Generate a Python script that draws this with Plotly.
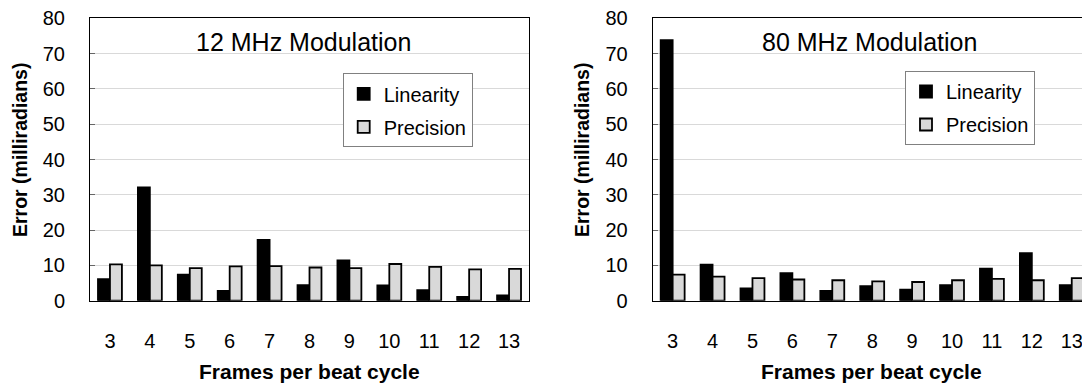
import plotly.graph_objects as go

frames = ["3", "4", "5", "6", "7", "8", "9", "10", "11", "12", "13"]

lin_12 = [6.1, 32.1, 7.4, 2.8, 17.2, 4.4, 11.4, 4.3, 3.0, 1.1, 1.5]
prec_12 = [10.3, 10.0, 9.2, 9.7, 9.8, 9.4, 9.2, 10.4, 9.6, 8.9, 9.0]

lin_80 = [73.8, 10.2, 3.5, 7.8, 2.8, 4.1, 3.1, 4.4, 9.1, 13.5, 4.4]
prec_80 = [7.4, 6.8, 6.4, 6.0, 5.8, 5.5, 5.3, 5.8, 6.2, 5.8, 6.4]

titles = ["12 MHz Modulation", "80 MHz Modulation"]
series_names = ["Linearity", "Precision"]
y_ticks = [0, 10, 20, 30, 40, 50, 60, 70, 80]

W, H = 1082, 386
FONT = "Liberation Sans, Arial, sans-serif"
LIN_COLOR = "#000000"
PREC_COLOR = "#d9d9d9"

fig = go.Figure()

def add_pair(lin, prec, xa, ya, leg):
    for name, vals, col in [(series_names[0], lin, LIN_COLOR), (series_names[1], prec, PREC_COLOR)]:
        fig.add_trace(go.Bar(
            x=frames, y=vals, name=name, xaxis=xa, yaxis=ya,
            marker=dict(color=col, line=dict(color="#000000", width=1.8)),
            legend=leg, legendgroup=leg + name,
        ))

add_pair(lin_12, prec_12, "x", "y", "legend")
add_pair(lin_80, prec_80, "x2", "y2", "legend2")

def px_x(p):
    return p / W

def px_y(p):
    return 1 - p / H

y_dom = [px_y(300.7), px_y(18.3)]

yaxis_common = dict(
    range=[0, 80], tickvals=y_ticks, showgrid=True, gridcolor="#d9d9d9", gridwidth=1,
    showline=True, linecolor="#000000", linewidth=1, ticks="inside", ticklen=5,
    tickcolor="#666666", tickfont=dict(family=FONT, size=20, color="#000000"),
    ticklabelstandoff=20, zeroline=False, fixedrange=True, automargin=False,
)
xaxis_common = dict(
    type="category", showgrid=False, showline=True, linecolor="#000000", linewidth=1,
    ticks="", tickfont=dict(family=FONT, size=20, color="#000000"),
    ticklabelstandoff=22, zeroline=False, fixedrange=True, automargin=False,
)

legend_common = dict(
    font=dict(family=FONT, size=20, color="#000000"),
    bgcolor="#ffffff", bordercolor="#808080", borderwidth=1,
    xanchor="left", yanchor="top", tracegroupgap=4, traceorder="grouped",
)

fig.update_layout(
    width=W, height=H,
    margin=dict(l=0, r=0, t=0, b=0, autoexpand=False),
    paper_bgcolor="#ffffff", plot_bgcolor="#ffffff",
    barmode="group", bargap=0.4, bargroupgap=0.0,
    xaxis=dict(domain=[px_x(90), px_x(529)], anchor="y", mirror=True, range=[-0.5, 10.5], **xaxis_common),
    yaxis=dict(domain=y_dom, anchor="x", mirror=True, **yaxis_common),
    xaxis2=dict(domain=[px_x(652.7), 1.0], anchor="y2", mirror=True,
                range=[-0.5, 10.5 - (1091.7 - W) / 39.9], **xaxis_common),
    yaxis2=dict(domain=y_dom, anchor="x2", mirror=False, **yaxis_common),
    legend=dict(x=px_x(342.7), y=px_y(73.3), **legend_common),
    legend2=dict(x=px_x(905), y=px_y(71), **legend_common),
    showlegend=True,
)

annots = []
for cx, t in [(303, titles[0]), (869, titles[1])]:
    annots.append(dict(text=t, x=px_x(cx), y=px_y(41.7), xref="paper", yref="paper",
                       xanchor="center", yanchor="middle", showarrow=False,
                       font=dict(family=FONT, size=25, color="#000000")))
for cx in [309.5, 871]:
    annots.append(dict(text="<b>Frames per beat cycle</b>", x=px_x(cx), y=px_y(371.7),
                       xref="paper", yref="paper", xanchor="center", yanchor="middle",
                       showarrow=False, font=dict(family=FONT, size=21, color="#000000")))
for cx in [20, 582]:
    annots.append(dict(text="<b>Error (milliradians)</b>", x=px_x(cx), y=px_y(150),
                       xref="paper", yref="paper", xanchor="center", yanchor="middle",
                       textangle=-90, showarrow=False,
                       font=dict(family=FONT, size=19.5, color="#000000")))
fig.update_layout(annotations=annots)

fig.write_html(
    "out.html",
    config={"displayModeBar": False, "staticPlot": True},
    post_script="document.body.style.margin='0px';document.body.style.overflow='hidden';",
)
